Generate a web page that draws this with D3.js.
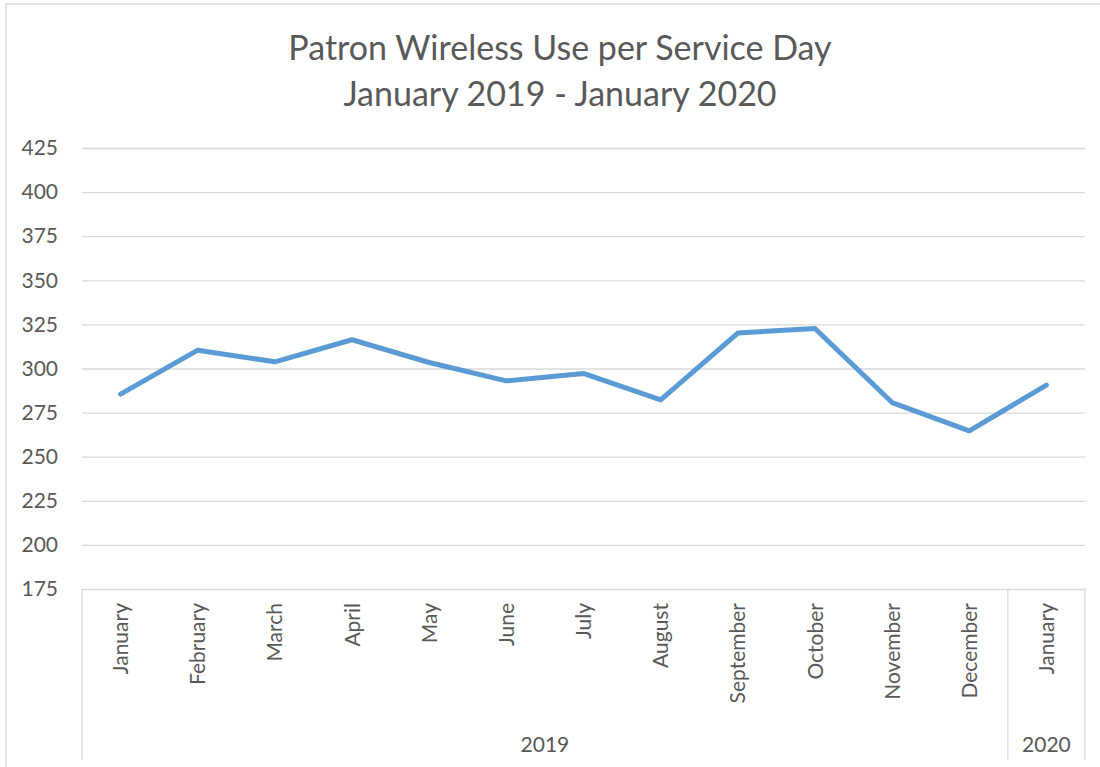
<!DOCTYPE html>
<html>
<head>
<meta charset="utf-8">
<script src="https://cdn.jsdelivr.net/npm/d3@7"></script>
<style>
  body { margin: 0; background: #fff; }
  svg { display: block; font-family: Lato, "Open Sans", sans-serif; }
</style>
</head>
<body>
<svg width="1100" height="767"></svg>
<script>
// data
const months = ["January", "February", "March", "April", "May", "June", "July",
                "August", "September", "October", "November", "December", "January"];
const years = ["2019", "2019", "2019", "2019", "2019", "2019", "2019",
               "2019", "2019", "2019", "2019", "2019", "2020"];
const wireless = [285.5, 310.4, 303.8, 316.3, 303.4, 293, 297.2, 282.2, 320.1, 322.7, 280.7, 264.6, 290.6];
const yTicks = [175, 200, 225, 250, 275, 300, 325, 350, 375, 400, 425];

const svg = d3.select("svg");
const width = 1100, height = 767;
const margin = {left: 82, right: 15, top: 148, bottom: 178};
const plotW = width - margin.left - margin.right;
const plotH = height - margin.top - margin.bottom;
const textCol = "#595959", gridCol = "#d9d9d9";

// outer chart frame
svg.append("rect")
    .attr("x", 6).attr("y", 4)
    .attr("width", 1200).attr("height", 900)
    .attr("fill", "none")
    .attr("stroke", gridCol)
    .attr("stroke-width", 1.3);

// title
const title = svg.append("text")
    .attr("text-anchor", "middle")
    .attr("fill", textCol)
    .style("font-size", "34px");
title.append("tspan").attr("x", 560).attr("y", 60).text("Patron Wireless Use per Service Day");
title.append("tspan").attr("x", 560).attr("y", 106).text("January 2019 - January 2020");

const g = svg.append("g").attr("transform", `translate(${margin.left},${margin.top})`);

const x = d3.scaleBand().domain(d3.range(months.length)).range([0, plotW]);
const y = d3.scaleLinear().domain([175, 425]).range([plotH, 0]);

// y axis + gridlines
const yAxis = g.append("g")
    .call(d3.axisLeft(y).tickValues(yTicks).tickSize(-plotW).tickPadding(24));
yAxis.select(".domain").remove();
yAxis.selectAll("line").attr("stroke", gridCol).attr("stroke-width", 1.3);
yAxis.selectAll("text")
    .attr("fill", textCol)
    .style("font-size", "21px")
    .style("font-family", "Lato, 'Open Sans', sans-serif");

// month labels
const xAxis = g.append("g")
    .attr("transform", `translate(0,${plotH})`)
    .call(d3.axisBottom(x).tickSize(0).tickFormat(i => months[i]));
xAxis.select(".domain").remove();
xAxis.selectAll("text")
    .attr("transform", "rotate(-90)")
    .attr("text-anchor", "end")
    .attr("x", -14)
    .attr("y", 0)
    .attr("dy", "0.36em")
    .attr("dx", 0)
    .attr("fill", textCol)
    .style("font-size", "21px")
    .style("font-family", "Lato, 'Open Sans', sans-serif");

// year groups and separators
const groups = d3.groups(d3.range(years.length), i => years[i]);
const sepBottom = 760 - margin.top;
const seps = [0];
groups.forEach(([yr, idx]) => {
  const x0 = x(idx[0]), x1 = x(idx[idx.length - 1]) + x.bandwidth();
  seps.push(x1);
  g.append("text")
      .attr("x", (x0 + x1) / 2)
      .attr("y", 752 - margin.top)
      .attr("text-anchor", "middle")
      .attr("fill", textCol)
      .style("font-size", "21px")
      .text(yr);
});
g.selectAll("line.sep")
  .data(seps)
  .enter()
  .append("line")
    .attr("class", "sep")
    .attr("x1", d => d).attr("x2", d => d)
    .attr("y1", plotH).attr("y2", sepBottom)
    .attr("stroke", gridCol)
    .attr("stroke-width", 1.3);

// the line
const line = d3.line()
    .x((d, i) => x(i) + x.bandwidth() / 2)
    .y(d => y(d));
g.append("path")
    .datum(wireless)
    .attr("d", line)
    .attr("fill", "none")
    .attr("stroke", "#5b9bd5")
    .attr("stroke-width", 5)
    .attr("stroke-linejoin", "round")
    .attr("stroke-linecap", "round");
</script>
</body>
</html>
